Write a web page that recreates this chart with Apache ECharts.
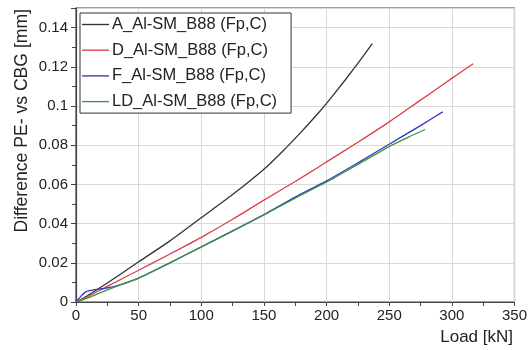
<!DOCTYPE html>
<html>
<head>
<meta charset="utf-8">
<script src="https://cdn.jsdelivr.net/npm/echarts@6/dist/echarts.min.js"></script>
<style>
  html, body { margin: 0; padding: 0; background: #fff; }
  #chart { width: 530px; height: 350px; }
</style>
</head>
<body>
<div id="chart"></div>
<script>
// Measured displacement difference (PE vs CBG) against applied load
const seriesNames = [
  'A_Al-SM_B88 (Fp,C)',
  'D_Al-SM_B88 (Fp,C)',
  'F_Al-SM_B88 (Fp,C)',
  'LD_Al-SM_B88 (Fp,C)'
];

const loadA = [0, 10, 25, 50, 75, 100, 125, 150, 165, 180, 194, 200, 215, 226, 236.5];
const diffA = [0, 0.0036, 0.0097, 0.0205, 0.0312, 0.0430, 0.0548, 0.0677, 0.0769, 0.0869, 0.0968, 0.1013, 0.1134, 0.1226, 0.1318];

const loadD = [0, 10, 25, 50, 75, 100, 125, 150, 175, 194, 200, 225, 250, 275, 287, 300, 310, 317];
const diffD = [0, 0.0030, 0.0080, 0.0162, 0.0245, 0.0330, 0.0422, 0.0520, 0.0615, 0.0690, 0.0715, 0.0815, 0.0919, 0.1030, 0.1083, 0.1141, 0.1185, 0.1216];

const loadF = [0, 4, 8, 15, 25, 35, 50, 75, 100, 125, 150, 175, 200, 225, 250, 275, 292.7];
const diffF = [0, 0.0030, 0.0053, 0.0063, 0.0072, 0.0088, 0.0122, 0.0200, 0.0282, 0.0363, 0.0446, 0.0535, 0.0618, 0.0710, 0.0805, 0.0900, 0.0970];

const loadLD = [0, 10, 25, 50, 75, 100, 125, 150, 175, 200, 225, 250, 265, 278.6];
const diffLD = [0, 0.0022, 0.0062, 0.0122, 0.0200, 0.0280, 0.0362, 0.0444, 0.0530, 0.0612, 0.0702, 0.0793, 0.0840, 0.0880];

const xTicks = [0, 50, 100, 150, 200, 250, 300, 350];
const yTicks = [0, 0.02, 0.04, 0.06, 0.08, 0.1, 0.12, 0.14];

const colors = ['#333333', '#d9404a', '#3434c8', '#3c963c'];

function pairs(xs, ys) {
  return xs.map((x, i) => [x, ys[i]]);
}

const FONT = 'Liberation Sans, Arial, sans-serif';
const curves = [[loadA, diffA], [loadD, diffD], [loadF, diffF], [loadLD, diffLD]];

const chart = echarts.init(document.getElementById('chart'), null, { renderer: 'canvas' });

chart.setOption({
  animation: false,
  backgroundColor: '#fff',
  textStyle: { fontFamily: FONT },
  grid: {
    left: 76, right: 14, top: 8, bottom: 48,
    show: true, borderColor: '#444', borderWidth: 1.2, backgroundColor: 'transparent'
  },
  legend: {
    orient: 'vertical',
    left: 80, top: 13,
    data: seriesNames,
    icon: 'path://M0,0H28V1.4H0Z',
    backgroundColor: '#fff',
    borderColor: '#333',
    borderWidth: 1,
    borderRadius: 0,
    padding: [3, 14, 3, 2],
    itemWidth: 27,
    itemHeight: 1.4,
    itemGap: 8.7,
    textStyle: { fontFamily: FONT, fontSize: 16.5, color: '#222', lineHeight: 17, padding: [0, 0, 0, -2] }
  },
  xAxis: {
    type: 'value',
    min: xTicks[0], max: xTicks[xTicks.length - 1], interval: 50,
    axisLine: { show: true, lineStyle: { color: '#444', width: 1.2 } },
    axisTick: { show: true, length: 4, lineStyle: { color: '#444' } },
    minorTick: { show: true, splitNumber: 2, length: 4, lineStyle: { color: '#444' } },
    splitLine: { show: true, lineStyle: { color: '#d9d9d9', width: 1 } },
    axisLabel: { fontFamily: FONT, fontSize: 15, color: '#222', margin: 6 }
  },
  yAxis: {
    type: 'value',
    min: 0, max: 0.15, interval: 0.02,
    axisLine: { show: true, lineStyle: { color: '#444', width: 1.2 } },
    axisTick: { show: true, length: 5, lineStyle: { color: '#444' } },
    minorTick: { show: true, splitNumber: 2, length: 4, lineStyle: { color: '#444' } },
    splitLine: { show: true, lineStyle: { color: '#d9d9d9', width: 1 } },
    axisLabel: {
      fontFamily: FONT, fontSize: 15, color: '#222', margin: 8, showMaxLabel: false,
      formatter: v => String(+v.toFixed(4))
    }
  },
  graphic: [
    {
      type: 'text', left: 13, top: 9, rotation: Math.PI / 2,
      style: { text: 'Difference PE- vs CBG [mm]', fontFamily: FONT, fontSize: 17.6, fill: '#222' }
    },
    {
      type: 'text', right: 17, top: 329,
      style: { text: 'Load [kN]', fontFamily: FONT, fontSize: 17, fill: '#222' }
    }
  ],
  series: seriesNames.map((name, i) => ({
    name,
    type: 'line',
    data: pairs(curves[i][0], curves[i][1]),
    showSymbol: false,
    symbol: 'none',
    smooth: 0.25,
    color: colors[i],
    lineStyle: { width: 1.3, color: colors[i] },
    z: 3 + i
  }))
});
</script>
</body>
</html>
